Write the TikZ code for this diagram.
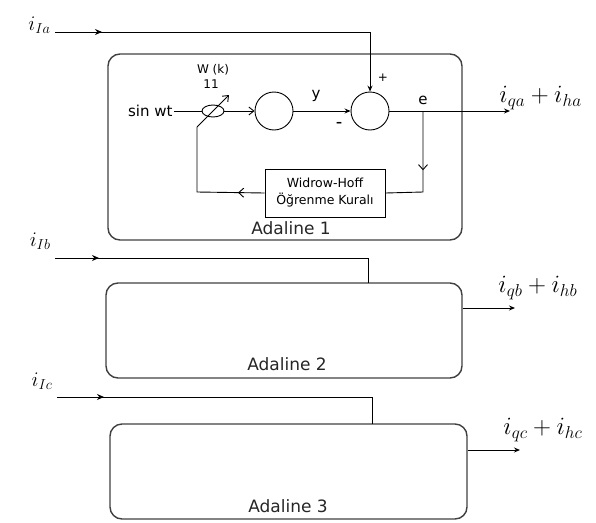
\documentclass[tikz,border=0pt]{standalone}
\usepackage{fontspec}
\setmainfont{DejaVu Sans}
\usetikzlibrary{arrows.meta,decorations.markings,shapes.geometric}
\begin{document}
\begin{tikzpicture}[x=1pt,y=-1pt,line width=0.9pt,
  adbox/.style={draw=black!75,line width=1.4pt,rounded corners=12pt,inner sep=0pt,anchor=center},
  whbox/.style={draw,line width=1pt,inner sep=0pt,align=center,font=\fontsize{12.5}{17}\selectfont},
  sumcirc/.style={draw,circle,minimum size=38pt,inner sep=0pt},
  wellipse/.style={draw,ellipse,minimum width=22pt,minimum height=12pt,inner sep=0pt},
  adlabel/.style={font=\fontsize{17}{19}\selectfont,text=black!85},
  sig/.style={font=\fontsize{15}{17}\selectfont,inner sep=1pt},
  cur/.style={font=\fontsize{21}{23}\selectfont,inner sep=1pt},
  outcur/.style={font=\fontsize{23}{25}\selectfont,inner sep=1pt},
  small/.style={font=\fontsize{12}{14}\selectfont,inner sep=1pt},
  tip/.style={-{Stealth[length=6pt,width=5pt]}},
  vtip/.style={-{Straight Barb[length=5pt,width=8pt]}},
  midarrow/.style={postaction={decorate},decoration={markings,mark=at position #1 with {\arrow{Stealth[length=7pt,width=6pt]}}}},
  midv/.style={postaction={decorate},decoration={markings,mark=at position #1 with {\arrow{Straight Barb[length=5pt,width=9pt]}}}}
]
\useasboundingbox (0,0) rectangle (596,522);

% Adaline boxes
\node[adbox,minimum width=354pt,minimum height=186pt] (b1) at (285,147) {};
\node[adbox,minimum width=356pt,minimum height=95pt] (b2) at (284,330.5) {};
\node[adbox,minimum width=357pt,minimum height=95pt] (b3) at (288.5,471.5) {};
\node[adlabel] (a1) at (291,228) {Adaline 1};
\node[adlabel] (a2) at (287,364) {Adaline 2};
\node[adlabel] (a3) at (288,506) {Adaline 3};

% inner elements of Adaline 1
\node[sig,anchor=east] (sin) at (174,111) {sin wt};
\node[wellipse] (w) at (213,111) {};
\node[small] (wk) at (213,70) {W (k)};
\node[small] (w11) at (211,84) {11};
\coordinate (wlow) at (197,127);
\coordinate (whigh) at (229,95);
\node[sumcirc] (c1) at (274,111) {};
\node[sumcirc] (s) at (370,111) {};
\node[whbox,minimum width=120pt,minimum height=48pt] (wh) at (325,193) {Widrow-Hoff\\Öğrenme Kuralı};
\node[sig] (ylab) at (316,96) {y};
\node[small] (plus) at (383,78) {+};
\node[small] (minus) at (339,124) {\textbf{\char"2013}};
\node[sig] (elab) at (423,100) {e};
\coordinate (ebr) at (423,111);
\coordinate (ecorner) at (423,192);
\coordinate (fbcorner) at (197,192);

\draw (sin.east) -- (w.west);
\draw[vtip] (w.east) -- (c1.west);
\draw[vtip] (wlow) -- (whigh);
\draw[tip] (c1.east) -- (s.west);
\draw[midv=0.5] (ebr) -- (ecorner) -- (wh.east);
\draw[midv=0.2] (wh.west) -- (fbcorner) -- (wlow);

% inputs
\node[cur,anchor=east] (iIa) at (52,25) {$i_{Ia}$};
\node[cur,anchor=east] (iIb) at (52,241) {$i_{Ib}$};
\node[cur,anchor=east] (iIc) at (54,381) {$i_{Ic}$};
\coordinate (ta) at (55,32);
\coordinate (tb) at (55,258);
\coordinate (tc) at (57,397);
\draw[midarrow=47pt,tip] (ta) -- (370,32) -- (s.north);
\draw[midarrow=44pt] (tb) -- (368,258) -- (368,283);
\draw[midarrow=47pt] (tc) -- (372,397) -- (372,424);

% outputs
\coordinate (o1) at (510,111);
\coordinate (o2) at (515,308);
\coordinate (o3) at (520,450);
\draw[tip] (s.east) -- (o1);
\draw[tip] (b2.east |- o2) -- (o2);
\draw[tip] (b3.east |- o3) -- (o3);
\node[outcur,anchor=west] (oa) at (498,98) {$i_{qa}+i_{ha}$};
\node[outcur,anchor=west] (ob) at (497,288) {$i_{qb}+i_{hb}$};
\node[outcur,anchor=west] (oc) at (502,430) {$i_{qc}+i_{hc}$};
\end{tikzpicture}
\end{document}
